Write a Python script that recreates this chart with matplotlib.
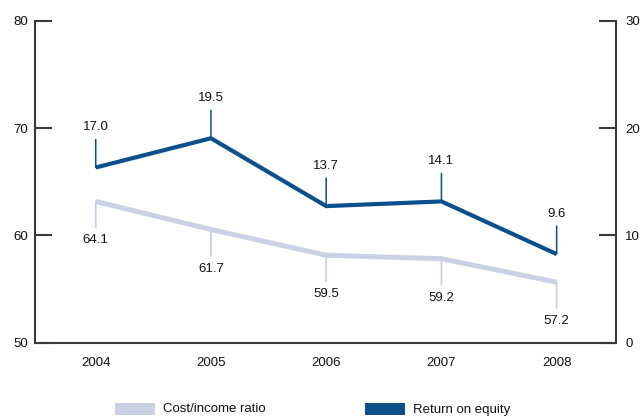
import matplotlib
matplotlib.use("Agg")
import matplotlib.pyplot as plt
from matplotlib.patches import Rectangle

plt.rcParams['font.family'] = ['Liberation Sans', 'DejaVu Sans']

# ---- data ----
years = [2004, 2005, 2006, 2007, 2008]
year_labels = ['2004', '2005', '2006', '2007', '2008']
cost_income = [64.1, 61.7, 59.5, 59.2, 57.2]
roe = [17.0, 19.5, 13.7, 14.1, 9.6]
left_ticks = [50, 60, 70, 80]
right_ticks = [0, 10, 20, 30]
series_names = ['Cost/income ratio', 'Return on equity']

# ---- style ----
C_COST = '#cbd1e4'
C_ROE = '#0b4f8d'
C_AX = '#3a3a3a'
C_TXT = '#111111'
FS = 9.5

W, H = 643, 416
fig = plt.figure(figsize=(W / 100, H / 100), dpi=100)
# axes frame in pixels
x0, x1 = 35, 616
ytop, ybot = 20.7, 342.7
ax = fig.add_axes([x0 / W, (H - ybot) / H, (x1 - x0) / W, (ybot - ytop) / H])
ax.patch.set_alpha(0)

# plotted data sits on a slightly larger inner scale than the drawn axes
px_per_unit = 11.7
zero_px = 366.4
d_lo = (zero_px - ybot) / px_per_unit
d_hi = (zero_px - ytop) / px_per_unit

axr = ax.twinx()
axc = ax.twinx()
axe = ax.twinx()

ax.set_xlim(2003.473, 2008.515)
ax.set_ylim(50, 80)
axr.set_ylim(0, 30)
axc.set_ylim(50 + d_lo, 50 + d_hi)
axe.set_ylim(d_lo, d_hi)

for a in (ax, axr, axc, axe):
    for s in a.spines.values():
        s.set_visible(False)
for a in (axc, axe):
    a.set_yticks([])
    a.patch.set_alpha(0)

ax.spines['left'].set_visible(True)
ax.spines['bottom'].set_visible(True)
axr.spines['right'].set_visible(True)
for s in (ax.spines['left'], ax.spines['bottom'], axr.spines['right']):
    s.set_color(C_AX)
    s.set_linewidth(1.5)

ax.set_yticks(left_ticks)
ax.set_yticklabels([str(t) for t in left_ticks])
axr.set_yticks(right_ticks)
axr.set_yticklabels([str(t) for t in right_ticks])
ax.tick_params(axis='y', direction='in', length=12, width=1.5, color=C_AX,
               pad=5, labelsize=FS, labelcolor=C_TXT)
axr.tick_params(axis='y', direction='in', length=12, width=1.5, color=C_AX,
                pad=6.5, labelsize=FS, labelcolor=C_TXT)
ax.set_xticks(years)
ax.set_xticklabels(year_labels)
ax.tick_params(axis='x', length=0, pad=10, labelsize=FS, labelcolor=C_TXT)

# lines
axc.plot(years, cost_income, color=C_COST, lw=3.6, solid_joinstyle='miter',
         solid_capstyle='butt', zorder=3)
axe.plot(years, roe, color=C_ROE, lw=3.0, solid_joinstyle='miter',
         solid_capstyle='butt', zorder=3)

# leaders + labels
for x, v in zip(years, roe):
    axe.annotate('', xy=(x, v), xytext=(0, 28), textcoords='offset pixels',
                 arrowprops=dict(arrowstyle='-', color=C_ROE, lw=1.1,
                                 shrinkA=0, shrinkB=0), zorder=2)
    axe.annotate(f'{v:.1f}', xy=(x, v), xytext=(0, 40), textcoords='offset pixels',
                 ha='center', va='center', fontsize=FS, color=C_TXT)
for x, v in zip(years, cost_income):
    axc.annotate('', xy=(x, v), xytext=(0, -26), textcoords='offset pixels',
                 arrowprops=dict(arrowstyle='-', color=C_COST, lw=1.3,
                                 shrinkA=0, shrinkB=0), zorder=2)
    axc.annotate(f'{v:.1f}', xy=(x, v), xytext=(0, -39), textcoords='offset pixels',
                 ha='center', va='center', fontsize=FS, color=C_TXT)

# legend (manual, at bottom)
leg_items = [(115, C_COST, series_names[0]), (365, C_ROE, series_names[1])]
for lx, col, name in leg_items:
    fig.add_artist(Rectangle((lx / W, (H - 415) / H), 40 / W, 12 / H,
                             transform=fig.transFigure, facecolor=col,
                             edgecolor='none'))
    fig.text((lx + 48) / W, (H - 409.5) / H, name, ha='left', va='center',
             fontsize=FS, color=C_TXT)

fig.savefig('out.png', dpi=100)
